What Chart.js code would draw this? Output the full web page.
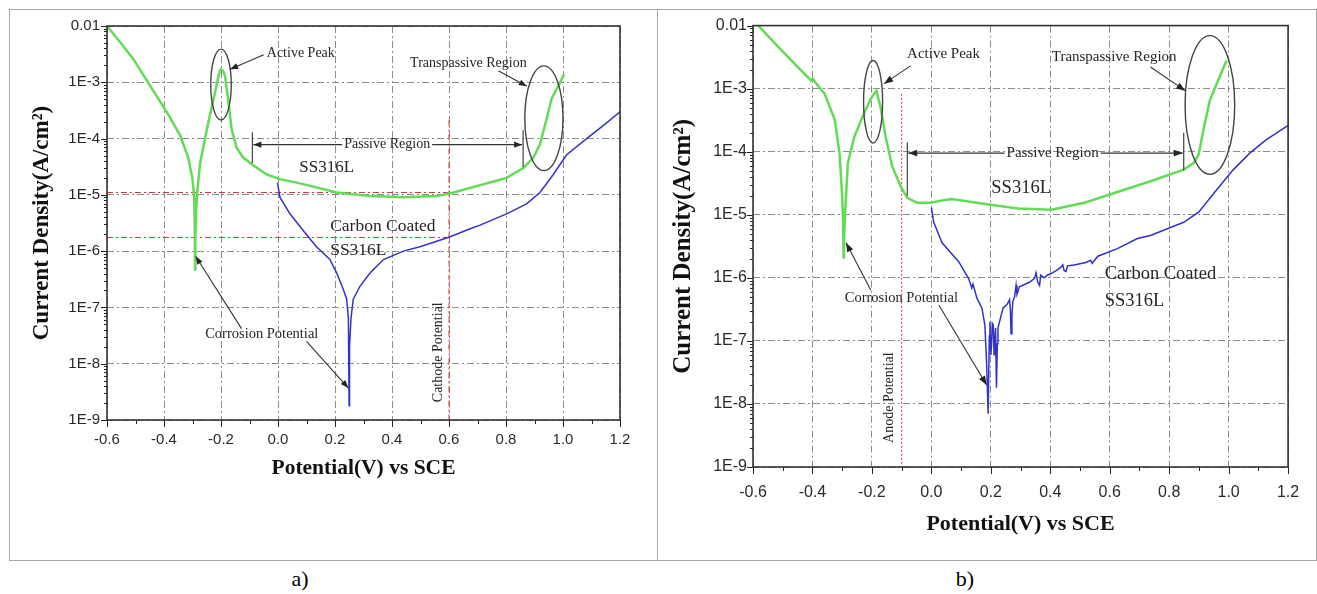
<!DOCTYPE html>
<html lang="en">
<head>
<meta charset="UTF-8">
<title>Polarization curves: SS316L vs carbon coated SS316L</title>
<script src="https://cdn.jsdelivr.net/npm/chart.js@4"></script>
<style>
  html, body { margin: 0; padding: 0; background: #fff; }
  #page { position: relative; width: 1317px; height: 594px; overflow: hidden; background: #fff; }
  .frame { position: absolute; border: 1px solid #a8a8a8; box-sizing: border-box; }
  canvas { position: absolute; }
  .tag { position: absolute; font-family: 'Liberation Serif', serif; font-size: 22px; color: #000; transform: translateX(-50%); }
</style>
</head>
<body>
<div id="page">
  <div class="frame" style="left:9px; top:9px; width:649px; height:552px;"></div>
  <div class="frame" style="left:657px; top:9px; width:660px; height:552px;"></div>
  <canvas id="chartA" style="left:10px; top:10px;" width="646" height="550"></canvas>
  <canvas id="chartB" style="left:658px; top:10px;" width="657" height="550"></canvas>
  <div class="tag" style="left:300px; top:566px;">a)</div>
  <div class="tag" style="left:965px; top:566px;">b)</div>
</div>
<script>
// axis ticks
const xTicks = [-0.6, -0.4, -0.2, 0.0, 0.2, 0.4, 0.6, 0.8, 1.0, 1.2];
const xTickLabels = ['-0.6', '-0.4', '-0.2', '0.0', '0.2', '0.4', '0.6', '0.8', '1.0', '1.2'];
const yTicks = [1e-9, 1e-8, 1e-7, 1e-6, 1e-5, 1e-4, 1e-3, 1e-2];
const yTickLabels = ['1E-9', '1E-8', '1E-7', '1E-6', '1E-5', '1E-4', '1E-3', '0.01'];

// panel a) - bare SS316L (green)
const potA_ss = [-0.600, -0.550, -0.508, -0.449, -0.391, -0.344, -0.315, -0.300, -0.294, -0.292, -0.291, -0.290, -0.287, -0.282, -0.274, -0.256, -0.239, -0.221, -0.208, -0.201, -0.193, -0.186, -0.174, -0.163, -0.145, -0.122, -0.092, -0.040, 0.007, 0.089, 0.206, 0.323, 0.440, 0.557, 0.616, 0.690, 0.760, 0.802, 0.861, 0.896, 0.919, 0.943, 0.960, 0.984, 1.004];
const curA_ss = [1.0e-2, 4.9e-3, 2.6e-3, 8.7e-4, 3.0e-4, 1.15e-4, 4.6e-5, 1.9e-5, 9.0e-6, 2.5e-6, 4.7e-7, 2.0e-6, 6.0e-6, 1.3e-5, 3.5e-5, 1.0e-4, 2.6e-4, 6.6e-4, 1.35e-3, 1.7e-3, 1.6e-3, 1.3e-3, 4.5e-4, 1.5e-4, 6.8e-5, 4.6e-5, 3.5e-5, 2.3e-5, 1.9e-5, 1.55e-5, 1.1e-5, 9.5e-6, 9.1e-6, 9.5e-6, 1.1e-5, 1.4e-5, 1.75e-5, 2.0e-5, 3.0e-5, 4.6e-5, 7.8e-5, 2.3e-4, 5.1e-4, 8.7e-4, 1.4e-3];

// panel a) - carbon coated (blue)
const potA_cc = [-0.002, 0.007, 0.042, 0.089, 0.135, 0.182, 0.206, 0.229, 0.241, 0.247, 0.2495, 0.251, 0.256, 0.264, 0.288, 0.323, 0.370, 0.440, 0.498, 0.557, 0.604, 0.674, 0.709, 0.802, 0.872, 0.919, 0.966, 1.012, 1.083, 1.153, 1.200];
const curA_cc = [1.65e-5, 9.0e-6, 4.6e-6, 2.3e-6, 1.2e-6, 7.1e-7, 4.1e-7, 2.1e-7, 1.4e-7, 6.3e-8, 1.8e-9, 2.0e-8, 6.3e-8, 1.4e-7, 2.4e-7, 4.1e-7, 7.1e-7, 1.0e-6, 1.2e-6, 1.5e-6, 1.8e-6, 2.5e-6, 2.9e-6, 4.6e-6, 6.9e-6, 1.1e-5, 2.3e-5, 5.1e-5, 1.0e-4, 1.9e-4, 3.0e-4];

// panel a) - red reference lines
const icorrSS_pot = [-0.6, 0.6];
const icorrSS_cur = [1.1e-5, 1.1e-5];
const icorrCC_pot = [-0.6, 0.6];
const icorrCC_cur = [1.75e-6, 1.75e-6];
const cathode_pot = [0.6, 0.6];
const cathode_cur = [2.1e-4, 1e-9];

// panel b) - bare SS316L (green)
const potB_ss = [-0.582, -0.515, -0.449, -0.405, -0.399, -0.390, -0.359, -0.325, -0.309, -0.300, -0.297, -0.295, -0.293, -0.290, -0.281, -0.259, -0.226, -0.204, -0.185, -0.171, -0.154, -0.132, -0.103, -0.081, -0.048, -0.003, 0.041, 0.069, 0.180, 0.292, 0.403, 0.515, 0.626, 0.737, 0.849, 0.882, 0.899, 0.915, 0.937, 0.960, 0.993];
const curB_ss = [1.0e-2, 4.6e-3, 2.2e-3, 1.35e-3, 1.45e-3, 1.25e-3, 8.3e-4, 3.2e-4, 9.5e-5, 2.0e-5, 8.0e-6, 2.0e-6, 5.0e-6, 1.1e-5, 6.6e-5, 1.74e-4, 4.1e-4, 6.9e-4, 9.3e-4, 5.1e-4, 1.74e-4, 5.9e-5, 2.8e-5, 1.86e-5, 1.55e-5, 1.55e-5, 1.7e-5, 1.78e-5, 1.48e-5, 1.26e-5, 1.2e-5, 1.55e-5, 2.3e-5, 3.4e-5, 5.2e-5, 6.6e-5, 8.9e-5, 2.2e-4, 6.6e-4, 1.2e-3, 2.8e-3];

// panel b) - carbon coated (blue), noisy near Ecorr
const potB_cc = [0.000, 0.008, 0.036, 0.092, 0.125, 0.136, 0.140, 0.153, 0.170, 0.180,
  0.186, 0.191, 0.195, 0.197, 0.200, 0.202, 0.205, 0.208, 0.211, 0.213,
  0.216, 0.219, 0.222, 0.224, 0.241, 0.255, 0.263, 0.266, 0.268, 0.271,
  0.274, 0.280, 0.285, 0.288, 0.291, 0.296, 0.330, 0.347, 0.352, 0.358,
  0.364, 0.368, 0.380, 0.390, 0.403, 0.420, 0.436, 0.442, 0.447, 0.453,
  0.458, 0.480, 0.520, 0.536, 0.541, 0.560, 0.626, 0.693, 0.737, 0.849,
  0.899, 0.960, 1.016, 1.071, 1.127, 1.199];
const curB_cc = [1.3e-5, 7.6e-6, 3.6e-6, 1.8e-6, 9.8e-7, 6.9e-7, 8.0e-7, 4.8e-7, 3.3e-7, 1.8e-7,
  4.3e-8, 7.0e-9, 1.2e-7, 2.0e-7, 6.0e-8, 7.8e-8, 1.9e-7, 1.8e-7, 6.0e-8, 1.0e-7,
  1.6e-7, 1.8e-8, 9.0e-8, 1.6e-7, 3.3e-7, 3.8e-7, 4.5e-7, 3.0e-7, 1.3e-7, 2.5e-7,
  4.2e-7, 5.0e-7, 7.6e-7, 5.5e-7, 6.0e-7, 7.2e-7, 8.5e-7, 9.8e-7, 1.2e-6, 8.5e-7,
  7.6e-7, 1.1e-6, 1.0e-6, 1.1e-6, 1.17e-6, 1.3e-6, 1.48e-6, 1.6e-6, 1.3e-6, 1.26e-6,
  1.55e-6, 1.6e-6, 1.75e-6, 1.9e-6, 1.7e-6, 2.2e-6, 2.9e-6, 4.2e-6, 4.7e-6, 7.6e-6,
  1.1e-5, 2.5e-5, 5.2e-5, 9.5e-5, 1.55e-4, 2.6e-4];

// panel b) - red reference line
const anode_pot = [-0.1, -0.1];
const anode_cur = [8.3e-4, 1e-9];

const GREEN = '#62dc55';
const BLUE = '#3232c8';
const RED = '#e03535';

function pts(p, c) {
  return p.map((v, i) => ({ x: v, y: c[i] }));
}

function arrow(ctx, x1, y1, x2, y2, head) {
  ctx.beginPath();
  ctx.moveTo(x1, y1);
  ctx.lineTo(x2, y2);
  ctx.stroke();
  const a = Math.atan2(y2 - y1, x2 - x1);
  const c = Math.cos(a), s = Math.sin(a), w = head * 0.38;
  ctx.beginPath();
  ctx.moveTo(x2, y2);
  ctx.lineTo(x2 - head * c + w * s, y2 - head * s - w * c);
  ctx.lineTo(x2 - head * c - w * s, y2 - head * s + w * c);
  ctx.closePath();
  ctx.fill();
}

// frame, tick marks and the hand-drawn style annotations
const decor = {
  id: 'decor',
  afterDraw(chart, args, o) {
    const { ctx, chartArea: a } = chart;
    const xs = chart.scales.x, ys = chart.scales.y;
    const px = v => xs.getPixelForValue(v);
    const py = v => ys.getPixelForValue(v);
    ctx.save();

    // tick marks (major + minor)
    ctx.strokeStyle = '#222';
    ctx.lineWidth = 1;
    ctx.beginPath();
    for (let e = -9; e <= -2; e++) {
      for (let k = 1; k < 10; k++) {
        if (e === -2 && k > 1) break;
        const yy = Math.round(py(k * Math.pow(10, e))) + 0.5;
        const len = k === 1 ? 6 : 3;
        ctx.moveTo(a.left - len, yy);
        ctx.lineTo(a.left, yy);
      }
    }
    for (let i = 0; i <= 18; i++) {
      const xx = Math.round(px(-0.6 + i * 0.1)) + 0.5;
      const len = i % 2 ? 4 : 7;
      ctx.moveTo(xx, a.bottom);
      ctx.lineTo(xx, a.bottom + len);
    }
    ctx.stroke();

    // plot box
    ctx.strokeStyle = '#333';
    ctx.lineWidth = 1.6;
    ctx.strokeRect(a.left, a.top, a.right - a.left, a.bottom - a.top);

    // ellipses
    ctx.strokeStyle = '#444';
    ctx.lineWidth = 1.4;
    o.ellipses.forEach(e => {
      const cx = px(e.x), cy = py(e.y);
      const rx = px(e.x + e.rx) - cx;
      const ry = py(e.y / Math.pow(10, e.ry)) - cy;
      ctx.beginPath();
      ctx.ellipse(cx, cy, rx, ry, 0, 0, Math.PI * 2);
      ctx.stroke();
    });

    // arrows
    ctx.strokeStyle = '#333';
    ctx.fillStyle = '#222';
    ctx.lineWidth = 1.1;
    o.arrows.forEach(r => {
      arrow(ctx, px(r.from[0]), py(r.from[1]), px(r.to[0]), py(r.to[1]), o.head);
    });

    // text labels
    ctx.fillStyle = '#262626';
    ctx.textBaseline = 'middle';
    o.labels.forEach(l => {
      ctx.font = l.size + 'px "Liberation Serif"';
      ctx.save();
      ctx.translate(px(l.x), py(l.y));
      if (l.rotate) ctx.rotate(-Math.PI / 2);
      ctx.textAlign = l.align || 'center';
      ctx.fillText(l.text, 0, 0);
      ctx.restore();
    });

    // passive region marker
    const p = o.passive;
    ctx.font = p.size + 'px "Liberation Serif"';
    ctx.textAlign = 'center';
    const tx = px(p.x), ty = py(p.y);
    const tw = ctx.measureText('Passive Region').width;
    ctx.fillText('Passive Region', tx, ty);
    ctx.strokeStyle = '#333';
    ctx.lineWidth = 1.1;
    ctx.beginPath();
    ctx.moveTo(px(p.left), py(p.leftBar[0]));
    ctx.lineTo(px(p.left), py(p.leftBar[1]));
    ctx.moveTo(px(p.right), py(p.rightBar[0]));
    ctx.lineTo(px(p.right), py(p.rightBar[1]));
    ctx.stroke();
    arrow(ctx, tx - tw / 2 - 2, ty, px(p.left) + 1, ty, o.head);
    arrow(ctx, tx + tw / 2 + 2, ty, px(p.right) - 1, ty, o.head);

    ctx.restore();
  }
};

function makeChart(id, cfg) {
  return new Chart(document.getElementById(id), {
    type: 'line',
    data: { datasets: cfg.datasets },
    options: {
      responsive: false,
      animation: false,
      devicePixelRatio: 1,
      layout: { padding: cfg.padding },
      elements: { point: { radius: 0 }, line: { tension: 0 } },
      plugins: {
        legend: { display: false },
        tooltip: { enabled: false },
        decor: cfg.decor
      },
      scales: {
        x: {
          type: 'linear',
          min: -0.6,
          max: 1.2,
          afterBuildTicks: s => { s.ticks = xTicks.map(v => ({ value: v })); },
          afterFit: s => { s.height = cfg.xAxisH; },
          ticks: {
            autoSkip: false,
            maxRotation: 0,
            color: '#2a2a2a',
            padding: cfg.xTickPad,
            font: { family: 'Liberation Sans', size: cfg.tickSize },
            callback: (v, i) => xTickLabels[i]
          },
          grid: { color: '#8c8c8c', lineWidth: 1, drawTicks: false },
          border: { display: false, dash: [7, 3, 2, 3] },
          title: {
            display: true,
            text: 'Potential(V) vs SCE',
            color: '#111',
            font: { family: 'Liberation Serif', size: cfg.xTitleSize, weight: 'bold' },
            padding: { top: 0, bottom: cfg.xTitlePad }
          }
        },
        y: {
          type: 'logarithmic',
          min: 1e-9,
          max: 1e-2,
          afterBuildTicks: s => { s.ticks = yTicks.map(v => ({ value: v })); },
          afterFit: s => { s.width = cfg.yAxisW; },
          ticks: {
            autoSkip: false,
            color: '#2a2a2a',
            padding: cfg.yTickPad,
            font: { family: 'Liberation Sans', size: cfg.tickSize },
            callback: (v, i) => yTickLabels[i]
          },
          grid: { color: '#8c8c8c', lineWidth: 1, drawTicks: false },
          border: { display: false, dash: [7, 3, 2, 3] },
          title: {
            display: true,
            text: 'Current Density(A/cm²)',
            color: '#111',
            font: { family: 'Liberation Serif', size: cfg.yTitleSize, weight: 'bold' },
            padding: { top: cfg.yTitlePad, bottom: 0 }
          }
        }
      }
    },
    plugins: [decor]
  });
}

makeChart('chartA', {
  padding: { left: 0, top: 9.5, right: 36, bottom: 70 },
  xAxisH: 70, yAxisW: 97,
  tickSize: 15, xTickPad: 10.4, yTickPad: 7,
  xTitleSize: 21.5, xTitlePad: 9.1,
  yTitleSize: 23, yTitlePad: 18.2,
  datasets: [
    { data: pts(potA_ss, curA_ss), borderColor: GREEN, borderWidth: 2.5 },
    { data: pts(potA_cc, curA_cc), borderColor: BLUE, borderWidth: 1.5 },
    { data: pts(icorrSS_pot, icorrSS_cur), borderColor: RED, borderWidth: 1, borderDash: [6, 3, 2, 3] },
    { data: pts(icorrCC_pot, icorrCC_cur), borderColor: RED, borderWidth: 1, borderDash: [6, 3, 2, 3] },
    { data: pts(cathode_pot, cathode_cur), borderColor: RED, borderWidth: 1, borderDash: [6, 3, 2, 3] }
  ],
  decor: {
    head: 8,
    ellipses: [
      { x: -0.2, y: 9.1e-4, rx: 0.036, ry: 0.63 },
      { x: 0.933, y: 2.3e-4, rx: 0.067, ry: 0.93 }
    ],
    arrows: [
      { from: [-0.05, 3.1e-3], to: [-0.168, 1.7e-3] },
      { from: [0.773, 1.6e-3], to: [0.873, 8.5e-4] },
      { from: [-0.128, 4.2e-8], to: [-0.289, 8.1e-7] },
      { from: [0.10, 2.5e-8], to: [0.247, 3.7e-9] }
    ],
    labels: [
      { text: 'Active Peak', x: 0.08, y: 3.3e-3, size: 14 },
      { text: 'Transpassive Region', x: 0.668, y: 2.2e-3, size: 14 },
      { text: 'SS316L', x: 0.171, y: 3.1e-5, size: 17 },
      { text: 'Carbon Coated', x: 0.183, y: 2.75e-6, size: 17.5, align: 'left' },
      { text: 'SS316L', x: 0.183, y: 1.05e-6, size: 17.5, align: 'left' },
      { text: 'Corrosion Potential', x: -0.057, y: 3.4e-8, size: 14.5 },
      { text: 'Cathode Potential', x: 0.563, y: 1.6e-8, size: 14, rotate: true }
    ],
    passive: { x: 0.383, y: 7.8e-5, size: 14, left: -0.09, leftBar: [1.3e-4, 3.7e-5], right: 0.86, rightBar: [1.4e-4, 3.1e-5] }
  }
});

makeChart('chartB', {
  padding: { left: 0, top: 11.5, right: 23, bottom: 13 },
  xAxisH: 80, yAxisW: 95,
  tickSize: 16, xTickPad: 15.8, yTickPad: 6,
  xTitleSize: 22, xTitlePad: 9.2,
  yTitleSize: 25, yTitlePad: 11,
  datasets: [
    { data: pts(potB_ss, curB_ss), borderColor: GREEN, borderWidth: 2.5 },
    { data: pts(potB_cc, curB_cc), borderColor: BLUE, borderWidth: 1.5 },
    { data: pts(anode_pot, anode_cur), borderColor: RED, borderWidth: 1, borderDash: [2, 2] }
  ],
  decor: {
    head: 9,
    ellipses: [
      { x: -0.196, y: 6.2e-4, rx: 0.032, ry: 0.655 },
      { x: 0.937, y: 5.5e-4, rx: 0.0835, ry: 1.10 }
    ],
    arrows: [
      { from: [-0.07, 2.3e-3], to: [-0.159, 1.2e-3] },
      { from: [0.737, 2.2e-3], to: [0.854, 9.3e-4] },
      { from: [-0.204, 6.4e-7], to: [-0.287, 3.6e-6] },
      { from: [0.025, 3.7e-7], to: [0.186, 2.0e-8] }
    ],
    labels: [
      { text: 'Active Peak', x: 0.041, y: 3.5e-3, size: 15 },
      { text: 'Transpassive Region', x: 0.615, y: 3.2e-3, size: 15 },
      { text: 'SS316L', x: 0.302, y: 2.6e-5, size: 18.5 },
      { text: 'Carbon Coated', x: 0.583, y: 1.15e-6, size: 18.5, align: 'left' },
      { text: 'SS316L', x: 0.583, y: 4.3e-7, size: 18.5, align: 'left' },
      { text: 'Corrosion Potential', x: -0.101, y: 4.8e-7, size: 14.5 },
      { text: 'Anode Potential', x: -0.142, y: 1.26e-8, size: 14, rotate: true }
    ],
    passive: { x: 0.408, y: 9.5e-5, size: 15, left: -0.081, leftBar: [1.4e-4, 2.0e-5], right: 0.849, rightBar: [2.0e-4, 5.1e-5] }
  }
});
</script>
</body>
</html>
